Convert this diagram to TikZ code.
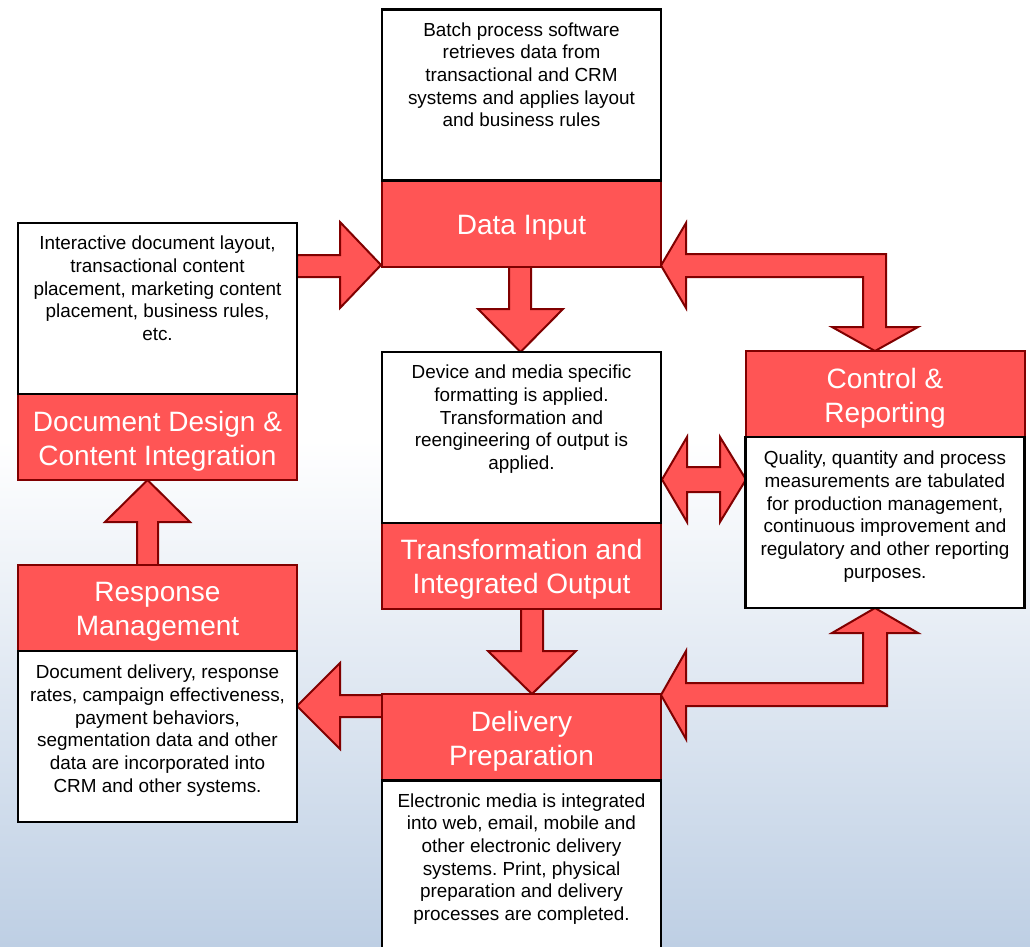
\documentclass[tikz,border=0pt]{standalone}
\usepackage{fontspec}
\setmainfont{Liberation Sans}
\frenchspacing
\definecolor{cred}{RGB}{255,85,85}
\definecolor{dred}{RGB}{128,0,0}
\definecolor{bgb}{RGB}{190,207,228}
\newcommand{\bodyfnt}{\fontsize{18.9}{22.7}\selectfont}
\newcommand{\headfnt}{\fontsize{28}{34}\selectfont}
\tikzset{
  hdr/.style={draw=dred, line width=2pt, fill=cred, rectangle, minimum width=279pt, minimum height=86pt, inner sep=0pt},
  htext/.style={inner sep=0pt, text=white, font=\headfnt, align=center},
  wbox/.style={draw=black, line width=2.5pt, fill=white, rectangle, minimum width=279pt, minimum height=171pt, inner sep=0pt},
  btext/.style={anchor=north, align=center, font=\bodyfnt, inner sep=0pt, text=black},
  blockarrow/.style={fill=cred, draw=dred, line width=2pt, line join=miter}
}
\begin{document}
\begin{tikzpicture}[x=1pt,y=-1pt]
\useasboundingbox (0,0) rectangle (1030,946);
\clip (0,0) rectangle (1030,946);
% background
\fill[white] (0,0) rectangle (1030,946);
\shade[top color=white, bottom color=bgb] (0,440) rectangle (1030,946);

% block arrows (drawn under the boxes)
% Document Design -> Data Input
\draw[blockarrow] (297,255) -- (340,255) -- (340,222) -- (381,265) -- (340,308) -- (340,277) -- (297,277) -- cycle;
% Data Input -> Transformation
\draw[blockarrow] (509,266) -- (509,309) -- (478,309) -- (520.5,352) -- (563,309) -- (531,309) -- (531,266) -- cycle;
% Data Input <-> Control
\draw[blockarrow] (661,265.5) -- (686,223) -- (686,254) -- (886,254) -- (886,327) -- (918,327) -- (875,351) -- (832,327) -- (863,327) -- (863,277) -- (686,277) -- (686,308) -- cycle;
% Transformation <-> Control
\draw[blockarrow] (662,479.5) -- (687,437) -- (687,467) -- (720,467) -- (720,437) -- (746,479.5) -- (720,522) -- (720,492) -- (687,492) -- (687,522) -- cycle;
% Transformation -> Delivery
\draw[blockarrow] (521,608) -- (521,651) -- (488,651) -- (532,694) -- (576,651) -- (543,651) -- (543,608) -- cycle;
% Delivery -> Response
\draw[blockarrow] (382,695) -- (340,695) -- (340,663) -- (297,706) -- (340,749) -- (340,717) -- (382,717) -- cycle;
% Delivery <-> Control
\draw[blockarrow] (661,695) -- (686,651) -- (686,683) -- (863,683) -- (863,633) -- (832,633) -- (875,608) -- (918,633) -- (887,633) -- (887,706) -- (686,706) -- (686,739) -- cycle;
% Response -> Document Design
\draw[blockarrow] (137,565) -- (137,522) -- (105,522) -- (147.5,480) -- (190,522) -- (158,522) -- (158,565) -- cycle;

% Data Input
\node[hdr] (diH) at (521.5,223.5) {};
\node[htext] (diL) at ([yshift=-4pt]diH.center) {Data Input};
\node[wbox] (diW) at (521.5,95) {};
\node[btext] (diT) at ([yshift=-14pt]diW.north) {Batch process software\\retrieves data from\\transactional and CRM\\systems and applies layout\\and business rules};

% Document Design
\node[hdr] (ddH) at (157.5,437) {};
\node[htext] (ddL) at ([yshift=-4pt]ddH.center) {Document Design \&\\Content Integration};
\node[wbox] (ddW) at (157.5,308.5) {};
\node[btext] (ddT) at ([yshift=-14pt]ddW.north) {Interactive document layout,\\transactional content\\placement, marketing content\\placement, business rules,\\etc.};

% Transformation
\node[hdr] (trH) at (521.5,565.5) {};
\node[htext] (trL) at ([yshift=-4pt]trH.center) {Transformation and\\Integrated Output};
\node[wbox] (trW) at (521.5,437.5) {};
\node[btext] (trT) at ([yshift=-14pt]trW.north) {Device and media specific\\formatting is applied.\\Transformation and\\reengineering of output is\\applied.};

% Control & Reporting
\node[hdr] (crH) at (885,394) {};
\node[htext] (crL) at ([yshift=-4pt]crH.center) {Control \&\\Reporting};
\node[wbox] (crW) at (885,522.5) {};
\node[btext] (crT) at ([yshift=-15pt]crW.north) {Quality, quantity and process\\measurements are tabulated\\for production management,\\continuous improvement and\\regulatory and other reporting\\purposes.};

% Response Management
\node[hdr] (rmH) at (157.5,608) {};
\node[htext] (rmL) at ([yshift=-4pt]rmH.center) {Response\\Management};
\node[wbox] (rmW) at (157.5,736.5) {};
\node[btext] (rmT) at ([yshift=-15pt]rmW.north) {Document delivery, response\\rates, campaign effectiveness,\\payment behaviors,\\segmentation data and other\\data are incorporated into\\CRM and other systems.};

% Delivery Preparation
\node[hdr] (dpH) at (521.5,737) {};
\node[htext] (dpL) at ([yshift=-4pt]dpH.center) {Delivery\\Preparation};
\node[wbox] (dpW) at (521.5,866) {};
\node[btext] (dpT) at ([yshift=-14pt]dpW.north) {Electronic media is integrated\\into web, email, mobile and\\other electronic delivery\\systems. Print, physical\\preparation and delivery\\processes are completed.};
\end{tikzpicture}
\end{document}
